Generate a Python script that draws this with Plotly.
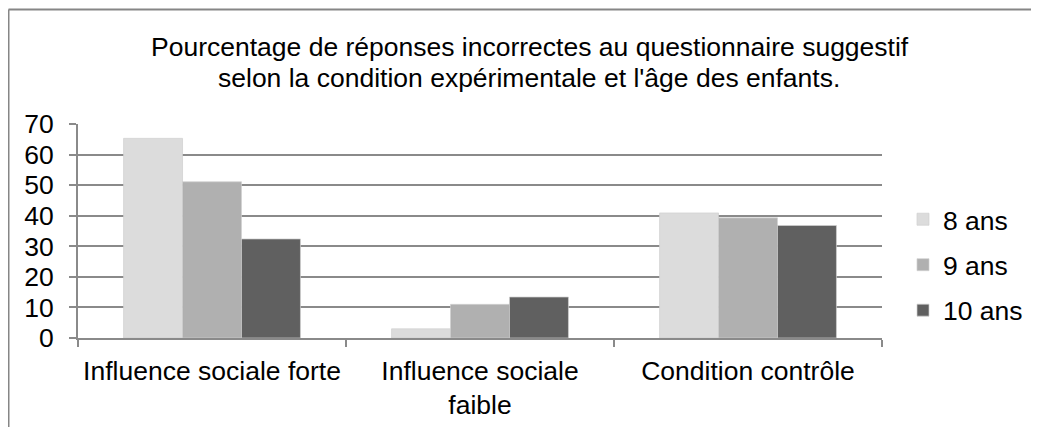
import plotly.graph_objects as go

categories = ["Influence sociale forte", "Influence sociale<br>faible", "Condition contrôle"]
series_names = ["8 ans", "9 ans", "10 ans"]
values_8 = [65.3, 3.0, 40.9]
values_9 = [51.1, 11.0, 39.3]
values_10 = [32.4, 13.4, 36.8]
colors = ["#dcdcdc", "#b0b0b0", "#606060"]

FONT = "Liberation Sans, Arial, sans-serif"
W, H = 1031, 419  # page body has an 8px margin

fig = go.Figure()
for i, (name, vals) in enumerate(zip(series_names, [values_8, values_9, values_10])):
    fig.add_trace(go.Bar(
        x=categories, y=vals, name=name, legendgroup=name,
        marker=dict(color=colors[i], line=dict(color="#d0d0d0", width=0.7)),
    ))

fig.update_layout(
    width=W, height=H,
    margin=dict(l=70, r=157, t=116, b=89, autoexpand=False),
    paper_bgcolor="white", plot_bgcolor="white",
    font=dict(family=FONT, size=26.5, color="black"),
    barmode="group", bargap=0.34, bargroupgap=0,
    showlegend=True,
    legend=dict(xref="container", yref="container",
                x=(903 - 8) / W, xanchor="left", y=(H - (265 - 8)) / H, yanchor="middle",
                font=dict(size=26.5), tracegroupgap=8, itemwidth=30),
)

fig.update_xaxes(
    automargin=False,
    showline=True, linecolor="#8a8a8a", linewidth=2,
    ticks="outside", tickson="boundaries", ticklen=7, tickcolor="#8a8a8a", tickwidth=1.5,
    ticklabelstandoff=8,
    tickfont=dict(size=26.5),
)
fig.update_yaxes(
    automargin=False,
    range=[0, 70], dtick=10,
    showgrid=True, gridcolor="#8a8a8a", gridwidth=1.6,
    showline=True, linecolor="#8a8a8a", linewidth=2,
    ticks="outside", ticklen=7, tickcolor="#8a8a8a", tickwidth=1.5,
    ticklabelstandoff=10, zeroline=False,
    tickfont=dict(size=26.5),
)

# title, two lines
fig.add_annotation(text="Pourcentage de réponses incorrectes au questionnaire suggestif",
                   xref="paper", yref="paper", x=(530 - 78) / 804, y=(338 - 47) / 214,
                   showarrow=False, xanchor="center", yanchor="middle",
                   font=dict(size=26.5))
fig.add_annotation(text="selon la condition expérimentale et l'âge des enfants.",
                   xref="paper", yref="paper", x=(529 - 78) / 804, y=(338 - 78) / 214,
                   showarrow=False, xanchor="center", yanchor="middle",
                   font=dict(size=26.5))

# chart border (top and left edges visible)
fig.add_shape(type="line", xref="paper", yref="paper",
              x0=(8.5 - 78) / 804, x1=(1045 - 78) / 804,
              y0=(338 - 9.5) / 214, y1=(338 - 9.5) / 214,
              line=dict(color="#868686", width=2))
fig.add_shape(type="line", xref="paper", yref="paper",
              x0=(8.5 - 78) / 804, x1=(8.5 - 78) / 804,
              y0=(338 - 9.5) / 214, y1=(338 - 440) / 214,
              line=dict(color="#868686", width=2))

fig.write_html("out.html")
